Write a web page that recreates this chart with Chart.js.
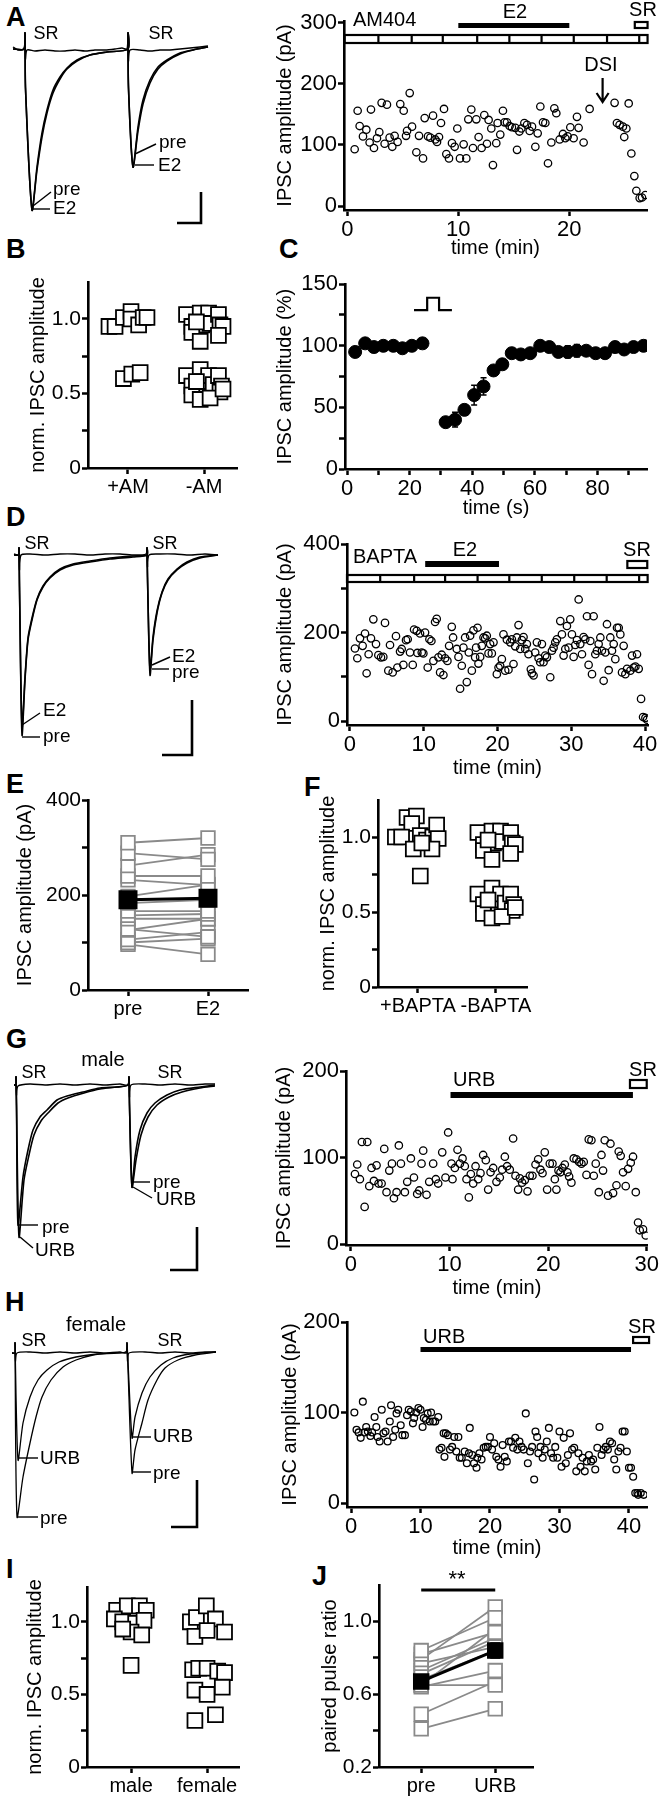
<!DOCTYPE html>
<html>
<head>
<meta charset="utf-8">
<script src="https://cdn.jsdelivr.net/npm/chart.js@4.4.1/dist/chart.umd.min.js"></script>
<style>
  body { margin: 0; background: #fff; width: 660px; height: 1800px; position: relative; overflow: hidden;
         font-family: "Liberation Sans", Arial, Helvetica, sans-serif; }
  canvas { position: absolute; }
  .lt { position: absolute; font-weight: bold; font-size: 27px; line-height: 1; color: #000; }
</style>
</head>
<body>
<div class="lt" style="left:6px;top:4px">A</div>
<div class="lt" style="left:6px;top:236px">B</div>
<div class="lt" style="left:279px;top:236px">C</div>
<div class="lt" style="left:6px;top:504px">D</div>
<div class="lt" style="left:6px;top:771px">E</div>
<div class="lt" style="left:304px;top:774px">F</div>
<div class="lt" style="left:6px;top:1026px">G</div>
<div class="lt" style="left:5px;top:1289px">H</div>
<div class="lt" style="left:6px;top:1556px">I</div>
<div class="lt" style="left:312px;top:1563px">J</div>
<script>
// ---- data ----
// A: IPSC amplitude (pA) vs time (min), AM404 cell
const ptsA = [[0.66,93],[0.93,156],[1.11,131],[1.41,114],[1.71,125],[2.01,104],[2.13,158],[2.40,95],[2.67,111],[2.88,121],
  [3.09,169],[3.36,102],[3.57,166],[3.81,112],[4.05,97],[4.26,115],[4.53,105],[4.77,167],[5.08,156],[5.29,115],
  [5.38,123],[5.62,185],[5.83,130],[6.22,88],[6.46,115],[6.82,78],[6.97,144],[7.27,114],[7.48,112],[7.72,148],
  [7.93,109],[8.08,105],[8.26,113],[8.44,136],[8.71,159],[8.92,85],[9.16,78],[9.43,103],[9.67,97],[9.91,127],
  [10.15,78],[10.48,101],[10.72,78],[10.90,142],[11.17,158],[11.32,95],[11.62,142],[11.83,113],[12.10,95],[12.34,149],
  [12.58,102],[12.73,141],[12.97,127],[13.12,67],[13.42,103],[13.54,136],[13.78,117],[14.02,156],[14.17,137],[14.38,137],
  [14.62,131],[14.83,129],[15.14,128],[15.29,92],[15.50,122],[15.68,127],[15.95,136],[16.19,133],[16.43,123],[16.64,130],
  [16.94,97],[17.15,119],[17.39,163],[17.63,137],[17.84,136],[18.08,70],[18.38,104],[18.65,160],[18.83,152],[19.13,109],
  [19.43,118],[19.64,111],[19.85,114],[20.09,129],[20.39,111],[20.69,146],[20.84,128],[21.29,104],[21.83,159],
  [24.08,169],[24.29,136],[24.53,133],[24.83,130],[24.95,113],[25.14,127],[25.35,168],[25.59,86],[25.86,49],
  [26.04,25],[26.34,13],[26.55,14],[26.85,18]];

// B / F: normalized IPSC amplitude, x = group (1 or 2) plus jitter
const catsB = ['+AM', '-AM'];
const normAM = [[0.75,0.95],[0.83,0.95],[0.94,1.01],[1.04,1.05],[1.04,1.00],[1.14,0.96],[1.20,1.01],[1.25,1.01],
  [0.94,0.60],[1.05,0.63],[1.16,0.64]];
const normCtrl = [[1.77,1.03],[1.84,0.95],[1.95,1.04],[1.97,0.96],[2.06,1.04],[2.08,0.97],[2.19,1.03],[2.21,0.96],
  [2.25,0.95],[1.84,0.91],[1.95,0.85],[2.19,0.89],[1.90,0.98],
  [1.77,0.62],[1.84,0.55],[1.95,0.66],[1.97,0.58],[2.06,0.62],[2.12,0.56],[2.19,0.62],[2.23,0.55],[2.21,0.51],
  [1.84,0.49],[1.95,0.46],[2.08,0.47],[2.25,0.53],[1.90,0.58]];
const catsF = ['+BAPTA', '-BAPTA'];
const normBAPTA = [[0.71,1.00],[0.86,1.13],[0.98,1.14],[0.92,1.09],[0.79,1.00],[1.03,1.01],[1.11,0.98],[1.19,1.00],
  [1.24,1.08],[1.26,0.99],[1.18,0.92],[0.94,0.92],[1.05,0.96],[1.03,0.74]];

// C: DSI time course (%), time (s), SEM
const tC = [2.6,5.8,8.6,11.6,14.8,17.7,20.7,24.1,31.5,34.5,37.5,40.6,43.6,46.8,49.6,52.6,55.5,58.5,61.7,64.6,67.5,70.5,73.4,76.4,79.4,82.4,85.6,88.5,91.5,94.7];
const vC = [95,102,99,100,100,98,100,102,38,40,48,60,67,80,85,94,93,94,100,99,95,95,96,96,94,94,99,97,99,100];
const eC = [2,2,2,2,2,2,2,2,3,6,4,8,7,3,3,4,4,3,3,3,4,5,5,3,4,4,4,3,3,3];

// D: BAPTA cell time course
const ptsD = [[0.68,164],[1.0,142],[1.36,187],[1.72,170],[2.04,198],[2.26,108],[2.53,151],[2.85,187],[3.17,230],[3.53,174],
  [3.85,149],[4.21,144],[4.52,145],[4.75,222],[5.2,114],[5.43,172],[5.79,110],[6.24,192],[6.43,121],[6.79,157],
  [7.01,163],[7.24,127],[7.6,183],[7.83,185],[8.14,155],[8.51,127],[8.69,207],[9.05,204],[9.14,154],[9.5,198],
  [9.73,155],[9.95,153],[10.18,200],[10.54,121],[10.77,185],[11.04,181],[11.31,136],[11.54,224],[11.76,231],[11.99,144],
  [12.22,110],[12.44,150],[12.67,104],[12.9,142],[13.21,136],[13.44,170],[13.8,213],[13.98,189],[14.48,163],[14.71,145],
  [14.93,73],[15.16,125],[15.38,166],[15.61,189],[15.84,88],[16.11,155],[16.29,193],[16.52,114],[16.74,205],[16.97,144],
  [17.1,166],[17.29,211],[17.42,130],[17.65,145],[17.87,170],[18.1,189],[18.33,187],[18.55,193],[18.78,153],[19.0,174],
  [19.23,153],[19.46,178],[19.91,106],[20.14,121],[20.36,125],[20.59,140],[20.81,196],[21.04,114],[21.27,184],[21.49,116],
  [21.72,178],[21.95,185],[22.17,129],[22.4,169],[22.62,189],[22.85,217],[23.08,163],[23.3,183],[23.53,190],[23.76,163],
  [23.98,174],[24.21,151],[24.52,117],[24.66,108],[24.89,103],[25.11,155],[25.34,178],[25.57,142],[25.79,133],[26.02,174],
  [26.24,133],[26.47,148],[26.7,144],[27.15,99],[27.38,159],[27.6,166],[27.83,178],[28.05,185],[28.51,226],[28.73,196],
  [28.96,148],[29.19,163],[29.41,215],[29.64,166],[29.86,230],[30.09,196],[30.32,145],[30.54,172],[30.77,183],[31.0,275],
  [31.22,174],[31.45,151],[31.67,190],[31.9,185],[32.13,237],[32.35,127],[32.58,181],[32.81,106],[33.03,237],[33.26,151],
  [33.48,159],[33.71,174],[33.94,189],[34.16,159],[34.39,91],[34.62,155],[34.84,219],[35.07,115],[35.29,189],[35.52,159],
  [35.75,174],[35.97,140],[36.2,211],[36.43,211],[36.65,196],[36.88,110],[37.1,170],[37.33,106],[37.56,118],[38.01,114],
  [38.24,148],[38.46,121],[38.69,123],[38.91,151],[39.14,118],[39.46,50],[39.73,9],[40.05,7],[40.27,3]];

// E: paired amplitudes pre / E2 (pA)
const catsE = ['pre', 'E2'];
const preE = [310,288,262,240,232,197,183,166,157,150,128,126,106,100,96];
const postE = [320,275,285,240,221,222,190,166,160,150,112,150,122,108,75];
const meanE = [190,193];

// G: male URB cell
const ptsG = [[0.41,81],[0.64,92],[0.91,75],[1.11,118],[1.39,43],[1.66,118],[1.86,67],[2.09,88],[2.33,73],[2.6,91],
  [2.8,70],[3.11,70],[3.38,110],[3.61,60],[3.89,85],[4.16,93],[4.36,53],[4.63,60],[4.86,114],[5.07,93],
  [5.47,60],[5.71,72],[6.08,99],[6.39,77],[6.72,58],[6.93,62],[7.16,93],[7.33,108],[7.67,57],[7.94,72],
  [8.34,93],[8.61,75],[8.85,70],[9.26,106],[9.59,77],[9.86,129],[10.2,93],[10.3,75],[10.54,88],[10.81,109],
  [11.05,93],[11.32,99],[11.55,90],[11.72,75],[11.96,54],[12.16,81],[12.4,70],[12.64,90],[12.91,75],[13.14,82],
  [13.41,103],[13.68,97],[13.92,63],[14.16,83],[14.43,88],[14.76,72],[15.1,77],[15.34,86],[15.61,101],[15.84,90],
  [16.11,86],[16.45,122],[16.69,79],[16.96,63],[17.13,76],[17.36,71],[17.64,74],[17.91,61],[18.14,79],[18.41,79],
  [18.72,92],[18.99,98],[19.22,86],[19.43,82],[19.66,106],[19.9,63],[20.17,93],[20.44,93],[20.68,75],[20.84,63],
  [21.05,85],[21.25,83],[21.45,88],[21.69,92],[21.96,83],[22.13,78],[22.36,71],[22.6,99],[22.87,98],[23.14,95],
  [23.38,93],[23.61,95],[23.89,80],[24.12,121],[24.39,120],[24.63,79],[24.83,93],[25.14,60],[25.41,103],[25.57,85],
  [25.74,120],[26.08,56],[26.32,116],[26.59,59],[26.93,68],[27.16,107],[27.36,102],[27.6,83],[27.87,67],[28.11,87],
  [28.38,94],[28.61,101],[28.89,60],[29.12,25],[29.29,16],[29.63,17],[29.9,10]];

// H: female URB cell
const ptsH = [[0.48,100],[0.79,81],[1.09,78],[1.39,72],[1.7,112],[1.94,78],[2.18,84],[2.42,79],[2.79,74],[3.03,78],
  [3.39,95],[3.64,84],[3.82,73],[4.12,68],[4.42,103],[4.67,77],[4.97,79],[5.27,68],[5.58,90],[5.76,108],
  [6.06,73],[6.36,81],[6.55,99],[6.79,103],[7.15,86],[7.39,75],[7.76,75],[8.06,97],[8.3,103],[8.61,101],
  [8.91,88],[9.09,94],[9.39,100],[9.7,105],[10.0,103],[10.3,84],[10.48,94],[10.79,92],[11.03,99],[11.33,90],
  [11.52,100],[11.82,90],[12.12,90],[12.55,95],[12.73,59],[13.03,61],[13.33,77],[13.45,51],[13.64,77],[13.94,75],
  [14.24,59],[14.55,62],[14.85,73],[15.15,57],[15.45,73],[15.64,50],[15.94,50],[16.36,57],[16.67,44],[16.97,55],
  [17.09,83],[17.45,53],[17.7,44],[18.06,39],[18.18,50],[18.48,55],[18.79,48],[19.09,61],[19.39,62],[19.7,62],
  [20.0,73],[20.3,59],[20.61,66],[20.91,51],[21.21,48],[21.52,40],[21.82,64],[22.12,51],[22.42,46],[22.73,68],
  [23.03,68],[23.33,61],[23.64,72],[23.94,59],[24.24,68],[24.55,62],[24.85,59],[25.15,99],[25.45,44],[25.76,57],
  [26.06,62],[26.36,26],[26.55,79],[26.79,73],[26.97,55],[27.27,62],[27.58,50],[27.88,59],[28.18,68],[28.48,83],
  [28.79,55],[29.09,50],[29.39,62],[29.7,50],[30.0,79],[30.3,40],[30.61,72],[30.91,44],[31.21,53],[31.52,77],
  [31.82,59],[32.12,61],[32.42,35],[32.73,55],[33.03,40],[33.33,50],[33.64,35],[33.94,46],[34.24,53],[34.55,46],
  [34.85,48],[35.15,37],[35.45,61],[35.76,84],[36.06,53],[36.36,59],[36.67,62],[36.97,59],[37.27,68],[37.58,66],
  [37.88,48],[38.18,37],[38.48,57],[38.79,61],[39.09,79],[39.39,79],[39.7,57],[40.0,39],[40.3,39],[40.61,29],
  [40.91,11],[41.21,11],[41.33,9],[41.7,11],[42.12,9]];

// I: normalized amplitude male / female
const catsI = ['male', 'female'];
const normMale = [[0.81,1.08],[0.95,1.11],[1.11,1.11],[1.20,1.08],[0.78,1.02],[0.89,1.00],[1.06,0.99],[1.17,1.01],
  [1.00,0.93],[1.14,0.91],[0.89,0.95],[1.00,0.70]];
const normFemale = [[1.78,1.00],[1.86,1.03],[1.99,1.11],[2.11,1.02],[2.23,0.93],[1.84,0.90],[2.00,0.94],
  [1.81,0.67],[1.89,0.68],[2.00,0.68],[2.14,0.66],[2.23,0.65],[1.84,0.53],[2.00,0.50],[2.20,0.55],[2.11,0.36],[1.84,0.32]];

// J: paired pulse ratio pre / URB
const catsJ = ['pre', 'URB'];
const preJ = [0.84,0.82,0.79,0.77,0.73,0.71,0.68,0.65,0.64,0.65,0.49,0.41];
const postJ = [1.02,0.94,1.08,0.86,0.91,0.89,0.84,0.96,0.73,0.65,0.67,0.52];
const meanJ = [0.67,0.84];
const semJ = [0.035,0.04];

// example traces (x: ms, y: pA relative to baseline)
const trA_sr = [[13,2],[18,-1],[24,0],[25,16],[25.5,-10],[27,-1],[35,-2],[45,-1],[55,-2],[65,-2],[75,-1],[85,-2],[95,-1],[105,-1],[115,0],[122,1],[127,0],[128,16],[128.5,-12],[130,-1],[140,-1],[150,-2],[160,-1],[170,-1],[180,0],[190,1],[200,2],[208,3]];
const trA_pre = [[13,0],[24,0],[25,16],[25.5,-39],[32,-161],[37,-118],[42,-84],[47,-61],[53,-41],[60,-28],[67,-19],[77,-11],[90,-6],[107,-3],[128,0],[128,16],[128.5,-39],[133,-118],[138,-78],[143,-51],[150,-31],[158,-18],[167,-11],[180,-4],[193,-1],[208,2]];
const trA_e2 = [[13,0],[24,0],[25,16],[25.5,-39],[32,-161],[37,-121],[42,-88],[47,-64],[53,-44],[60,-30],[67,-20],[77,-12],[90,-6],[107,-3],[128,0],[128,16],[128.5,-39],[133,-118],[138,-82],[143,-55],[150,-34],[158,-20],[167,-12],[180,-5],[193,-1],[208,2]];
const trD_sr = [[14,1],[18.5,0],[19,7],[19.5,-15],[21,0],[30,1],[45,0],[60,1],[75,1],[90,0],[105,1],[120,1],[135,0],[146,1],[147,7],[147.5,-12],[149,0],[160,1],[175,1],[190,0],[205,1],[218,0]];
const trD_pre = [[14,0],[18.5,0],[19,7],[19.5,-32],[22,-180],[25,-125],[28,-85],[32,-65],[37,-45],[43,-32],[50,-23],[60,-15],[73,-10],[90,-7],[110,-4],[133,-2],[147,0],[147,7],[147.5,-22],[150,-120],[153,-85],[157,-58],[162,-38],[168,-25],[177,-15],[187,-8],[200,-3],[218,0]];
const trD_e2 = [[14,0],[18.5,0],[19,7],[19.5,-32],[22,-173],[25,-122],[28,-83],[32,-63],[37,-44],[43,-31],[50,-22],[60,-14],[73,-9],[90,-6],[110,-3],[133,-1],[147,0],[147,7],[147.5,-22],[150,-115],[153,-82],[157,-56],[162,-37],[168,-24],[177,-14],[187,-7],[200,-2],[218,0]];
const trG_sr = [[14,0],[16,0],[16,8],[16.5,-10],[18,-1],[30,1],[45,0],[60,1],[75,0],[90,1],[105,0],[120,1],[128,0],[129,8],[129.5,-12],[131,0],[145,1],[160,0],[175,1],[190,0],[205,1],[215,1]];
const trG_pre = [[14,0],[16,0],[16,8],[16.5,-20],[18,-140],[23,-92],[28,-65],[33,-45],[40,-32],[47,-25],[57,-15],[67,-11],[83,-7],[100,-3],[117,-2],[128,0],[129,8],[129.5,-20],[132,-102],[135,-72],[140,-45],[147,-28],[155,-18],[167,-10],[180,-5],[200,-2],[215,0]];
const trG_urb = [[14,0],[16,0],[16,8],[16.5,-20],[19,-152],[24,-95],[29,-70],[34,-50],[41,-36],[48,-28],[58,-18],[68,-13],[84,-8],[100,-4],[117,-2],[128,0],[129,8],[129.5,-20],[132,-102],[136,-75],[141,-50],[148,-32],[157,-20],[169,-12],[182,-7],[200,-3],[215,-1]];
const trH_sr = [[12,0],[15,0],[15,10],[15.5,-8],[17,0],[30,1],[45,0],[60,1],[75,0],[90,1],[105,0],[120,1],[126,0],[127,10],[127.5,-8],[129,0],[145,1],[160,0],[175,1],[190,0],[205,1],[216,1]];
const trH_pre = [[12,0],[15,0],[15,10],[17,-164],[23,-124],[30,-90],[36,-64],[42,-44],[51,-27],[63,-14],[76,-7],[93,-2],[110,0],[126,1],[127,10],[132,-120],[135,-97],[142,-70],[148,-47],[157,-27],[165,-15],[178,-7],[195,-2],[216,1]];
const trH_urb = [[12,0],[15,0],[15,10],[18,-107],[23,-70],[30,-44],[38,-27],[47,-17],[59,-9],[76,-4],[97,-1],[126,1],[127,10],[132,-85],[135,-64],[142,-40],[150,-24],[161,-12],[173,-5],[190,-1],[216,1]];

// ---- drawing ----
const FONT = '"Liberation Sans", Arial, Helvetica, sans-serif';
Chart.defaults.font.family = FONT;
Chart.defaults.color = '#000';
Chart.defaults.animation = false;
Chart.defaults.plugins.legend.display = false;
Chart.defaults.plugins.tooltip.enabled = false;

// extra marks: drug bars, text, leaders, error bars
const deco = {
  id: 'deco',
  afterDatasetsDraw(chart, args, o) {
    if (!o || !o.items) return;
    const ctx = chart.ctx, sx = chart.scales.x, sy = chart.scales.y;
    const ox = o.ox, oy = o.oy;
    const px = t => sx.getPixelForValue(t), py = v => sy.getPixelForValue(v);
    ctx.save();
    ctx.fillStyle = '#000'; ctx.strokeStyle = '#000';
    for (const it of o.items) {
      ctx.lineWidth = it.lw || 2.2;
      if (it.k === 'text') {
        ctx.font = (it.bold ? 'bold ' : '') + (it.size || 19) + 'px ' + FONT;
        ctx.textAlign = it.align || 'center';
        ctx.textBaseline = 'middle';
        ctx.fillText(it.s, it.x - ox, it.y - oy);
      } else if (it.k === 'solid') {
        const a = px(it.from), b = px(it.to);
        ctx.fillRect(a, it.y0 - oy, b - a, it.y1 - it.y0);
      } else if (it.k === 'open') {
        const a = px(it.from), b = px(it.to);
        ctx.strokeRect(a, it.y0 - oy, b - a, it.y1 - it.y0);
        (it.div || []).forEach(d => {
          ctx.beginPath(); ctx.moveTo(px(d), it.y0 - oy); ctx.lineTo(px(d), it.y1 - oy); ctx.stroke();
        });
      } else if (it.k === 'arrow') {
        const x = px(it.at);
        ctx.beginPath(); ctx.moveTo(x, it.y0 - oy); ctx.lineTo(x, it.y1 - oy);
        ctx.moveTo(x - 6, it.y1 - oy - 9); ctx.lineTo(x, it.y1 - oy); ctx.lineTo(x + 6, it.y1 - oy - 9);
        ctx.stroke();
      } else if (it.k === 'seg') {
        ctx.beginPath();
        it.p.forEach((q, i) => i ? ctx.lineTo(q[0] - ox, q[1] - oy) : ctx.moveTo(q[0] - ox, q[1] - oy));
        ctx.stroke();
      } else if (it.k === 'dpath') {
        ctx.beginPath();
        it.p.forEach((q, i) => i ? ctx.lineTo(px(q[0]), py(q[1])) : ctx.moveTo(px(q[0]), py(q[1])));
        ctx.stroke();
      } else if (it.k === 'hline') {
        ctx.beginPath(); ctx.moveTo(px(it.from), it.y - oy); ctx.lineTo(px(it.to), it.y - oy); ctx.stroke();
      } else if (it.k === 'err') {
        it.p.forEach(q => {
          const x = px(q[0]), a = py(q[1] - q[2]), b = py(q[1] + q[2]), c = it.cap || 4;
          ctx.beginPath();
          ctx.moveTo(x, a); ctx.lineTo(x, b);
          ctx.moveTo(x - c, a); ctx.lineTo(x + c, a);
          ctx.moveTo(x - c, b); ctx.lineTo(x + c, b);
          ctx.stroke();
        });
      }
    }
    ctx.restore();
  }
};
Chart.register(deco);

function addCanvas(x, y, w, h) {
  const c = document.createElement('canvas');
  c.width = w; c.height = h;
  c.style.left = x + 'px'; c.style.top = y + 'px';
  c.style.width = w + 'px'; c.style.height = h + 'px';
  document.body.appendChild(c);
  return c;
}

function axis(pos, min, max, ticks, size, fmt, title, fs) {
  return {
    type: 'linear', position: pos, min: min, max: max,
    afterBuildTicks: s => { s.ticks = ticks.map(v => ({ value: v })); },
    afterFit: s => { if (pos === 'left') s.width = size; else s.height = size; },
    grid: { drawOnChartArea: false, drawTicks: true, tickLength: 6, tickWidth: 2.5, tickColor: '#000' },
    border: { color: '#000', width: 2.6 },
    ticks: { padding: 1, color: '#000', font: { size: fs || 22 }, maxRotation: 0, autoSkip: false, callback: fmt },
    title: { display: !!title, text: title || '', color: '#000', font: { size: 20 }, padding: 0 }
  };
}
const only = list => v => list.includes(v) ? (Number.isInteger(v) && v !== 1 ? String(v) : (v === 0 ? '0' : v.toFixed(1))) : '';
const xy = arr => arr.map(p => ({ x: p[0], y: p[1] }));

// plot helper: box = canvas rect on page, pad = chart padding (top/right)
function plot(box, pad, scales, datasets, items) {
  const c = addCanvas(box.x, box.y, box.w, box.h);
  return new Chart(c, {
    type: 'scatter',
    data: { datasets: datasets },
    options: {
      responsive: false, events: [],
      layout: { padding: { left: 0, top: pad.t, right: pad.r, bottom: 0 } },
      scales: scales,
      plugins: { deco: { items: items || [], ox: box.x, oy: box.y } }
    }
  });
}

function tracePlot(box, base, traces, items) {
  const c = addCanvas(box.x, box.y, box.w, box.h);
  return new Chart(c, {
    type: 'scatter',
    data: { datasets: traces.map(t => ({ data: xy(t.d), showLine: true, pointRadius: 0, borderColor: '#000',
      borderWidth: t.w || 1.6, tension: t.t === undefined ? 0.25 : t.t })) },
    options: {
      responsive: false, events: [],
      layout: { padding: 0 },
      scales: { x: { display: false, min: 0, max: box.w }, y: { display: false, min: base - (box.y + box.h), max: base - box.y } },
      plugins: { deco: { items: items || [], ox: box.x, oy: box.y } }
    }
  });
}

const circles = (arr) => ({ data: xy(arr), pointStyle: 'circle', pointRadius: 3.7, pointBorderWidth: 1.3,
  pointBorderColor: '#000', pointBackgroundColor: 'rgba(0,0,0,0)' });
const squares = (arr) => ({ data: xy(arr), pointStyle: 'rect', pointRadius: 10.5, pointBorderWidth: 1.8,
  pointBorderColor: '#000', pointBackgroundColor: '#fff' });
const pairs = (pre, post) => pre.map((v, i) => ({ data: [{ x: 1, y: v }, { x: 2, y: post[i] }], showLine: true,
  borderColor: '#8a8a8a', borderWidth: 1.8, pointStyle: 'rect', pointRadius: 9.6, pointBorderWidth: 1.8,
  pointBorderColor: '#8a8a8a', pointBackgroundColor: '#fff', order: 2 }));
const meanSet = (m, r) => ({ data: [{ x: 1, y: m[0] }, { x: 2, y: m[1] }], showLine: true, borderColor: '#000',
  borderWidth: 3, pointStyle: 'rect', pointRadius: r, pointBackgroundColor: '#000', pointBorderColor: '#000', order: 0 });

// ---- A ----
tracePlot({ x: 0, y: 25, w: 225, h: 210 }, 49, [{ d: trA_sr, w: 1.4 }, { d: trA_pre }, { d: trA_e2 },
  { d: [[177,-174],[201,-174],[201,-143]], w: 2.6, t: 0 }], [
  { k: 'text', s: 'SR', x: 46, y: 34, size: 18 }, { k: 'text', s: 'SR', x: 161, y: 34, size: 18 },
  { k: 'seg', p: [[33,206],[51,192]], lw: 1.4 }, { k: 'seg', p: [[33,209],[50,209]], lw: 1.4 },
  { k: 'text', s: 'pre', x: 53, y: 190, align: 'left' }, { k: 'text', s: 'E2', x: 53, y: 209, align: 'left' },
  { k: 'seg', p: [[135,154],[156,144]], lw: 1.4 }, { k: 'seg', p: [[135,165],[154,165]], lw: 1.4 },
  { k: 'text', s: 'pre', x: 159, y: 143, align: 'left' }, { k: 'text', s: 'E2', x: 158, y: 166, align: 'left' }
]);
plot({ x: 273, y: 0, w: 387, h: 260 }, { t: 21, r: 13 }, {
  x: axis('bottom', -0.3, 27, [0, 10, 20], 50, v => String(v), 'time (min)'),
  y: axis('left', -6.5, 303, [0, 100, 200, 300], 71, v => String(v), 'IPSC amplitude (pA)')
}, [circles(ptsA)], [
  { k: 'open', from: -0.25, to: 27.05, y0: 35, y1: 43, div: [2.8, 5.8, 8.6, 11.7, 14.6, 17.5, 20.4, 23.4, 26.3] },
  { k: 'solid', from: 10, to: 20, y0: 23, y1: 28 },
  { k: 'open', from: 25.9, to: 27.05, y0: 22, y1: 28 },
  { k: 'text', s: 'AM404', x: 353, y: 20, align: 'left', size: 20 },
  { k: 'text', s: 'E2', x: 515, y: 12, size: 20 },
  { k: 'text', s: 'SR', x: 643, y: 10, size: 20 },
  { k: 'text', s: 'DSI', x: 601, y: 65, size: 20 },
  { k: 'arrow', at: 23, y0: 78, y1: 102 }
]);

// ---- B ----
plot({ x: 26, y: 262, w: 250, h: 243 }, { t: 20, r: 39 }, {
  x: axis('bottom', 0.474, 2.434, [1, 2], 37, v => catsB[v - 1], '', 20),
  y: axis('left', 0, 1.248, [0, 0.25, 0.5, 0.75, 1], 62, only([0, 0.5, 1]), 'norm. IPSC amplitude', 21)
}, [squares(normAM), squares(normCtrl)]);

// ---- C ----
plot({ x: 273, y: 270, w: 387, h: 250 }, { t: 13, r: 13 }, {
  x: axis('bottom', -0.64, 95.8, [0, 10, 20, 30, 40, 50, 60, 70, 80, 90], 51, only([0, 20, 40, 60, 80]), 'time (s)'),
  y: axis('left', 0, 150, [0, 25, 50, 75, 100, 125, 150], 72, only([0, 50, 100, 150]), 'IPSC amplitude (%)')
}, [{ data: tC.map((t, i) => ({ x: t, y: vC[i] })), pointStyle: 'circle', pointRadius: 6.5, pointBackgroundColor: '#000', pointBorderColor: '#000' }], [
  { k: 'err', p: tC.map((t, i) => [t, vC[i], eC[i]]), lw: 1.5, cap: 3 },
  { k: 'dpath', p: [[21.4,129],[25.6,129],[25.6,139],[29.4,139],[29.4,129],[33.5,129]], lw: 2.2 }
]);

// ---- D ----
tracePlot({ x: 0, y: 530, w: 225, h: 235 }, 555, [{ d: trD_sr, w: 1.4 }, { d: trD_pre }, { d: trD_e2 },
  { d: [[162,-200],[192,-200],[192,-145]], w: 2.6, t: 0 }], [
  { k: 'text', s: 'SR', x: 37, y: 544, size: 18 }, { k: 'text', s: 'SR', x: 165, y: 544, size: 18 },
  { k: 'seg', p: [[22,725],[40,713]], lw: 1.4 }, { k: 'seg', p: [[22,737],[40,737]], lw: 1.4 },
  { k: 'text', s: 'E2', x: 43, y: 711, align: 'left' }, { k: 'text', s: 'pre', x: 43, y: 737, align: 'left' },
  { k: 'seg', p: [[152,665],[170,657]], lw: 1.4 }, { k: 'seg', p: [[152,669],[169,669]], lw: 1.4 },
  { k: 'text', s: 'E2', x: 172, y: 657, align: 'left' }, { k: 'text', s: 'pre', x: 172, y: 673, align: 'left' }
]);
plot({ x: 273, y: 530, w: 387, h: 250 }, { t: 13, r: 12 }, {
  x: axis('bottom', -0.4, 40.4, [0, 10, 20, 30, 40], 55, v => String(v), 'time (min)'),
  y: axis('left', -9, 400, [0, 100, 200, 300, 400], 74, only([0, 200, 400]), 'IPSC amplitude (pA)')
}, [circles(ptsD)], [
  { k: 'open', from: -0.4, to: 40.35, y0: 575, y1: 582, div: [4.1, 8.7, 12.9, 17.3, 21.6, 26.0, 30.4, 34.8, 39.2] },
  { k: 'solid', from: 10.2, to: 20.2, y0: 561, y1: 567 },
  { k: 'open', from: 37.6, to: 40.3, y0: 561, y1: 568 },
  { k: 'text', s: 'BAPTA', x: 353, y: 557, align: 'left', size: 20 },
  { k: 'text', s: 'E2', x: 465, y: 550, size: 20 },
  { k: 'text', s: 'SR', x: 637, y: 550, size: 20 }
]);

// ---- E ----
plot({ x: 13, y: 780, w: 255, h: 245 }, { t: 20, r: 20 }, {
  x: axis('bottom', 0.5, 2.5, [1, 2], 35, v => catsE[v - 1], '', 20),
  y: axis('left', 0, 400, [0, 100, 200, 300, 400], 75, only([0, 200, 400]), 'IPSC amplitude (pA)', 21)
}, [meanSet(meanE, 11.3)].concat(pairs(preE, postE)));

// ---- F ----
plot({ x: 316, y: 780, w: 240, h: 245 }, { t: 20, r: 29 }, {
  x: axis('bottom', 0.487, 2.4, [1, 2], 38, v => catsF[v - 1], '', 20),
  y: axis('left', 0, 1.247, [0, 0.25, 0.5, 0.75, 1], 62, only([0, 0.5, 1]), 'norm. IPSC amplitude', 21)
}, [squares(normBAPTA), squares(normCtrl)]);

// ---- G ----
tracePlot({ x: 0, y: 1050, w: 225, h: 230 }, 1085, [{ d: trG_sr, w: 1.4 }, { d: trG_pre }, { d: trG_urb },
  { d: [[170,-185],[197,-185],[197,-142]], w: 2.6, t: 0 }], [
  { k: 'text', s: 'male', x: 103, y: 1060, size: 20 },
  { k: 'text', s: 'SR', x: 34, y: 1073, size: 18 }, { k: 'text', s: 'SR', x: 170, y: 1073, size: 18 },
  { k: 'seg', p: [[18,1225],[38,1225]], lw: 1.4 }, { k: 'seg', p: [[20,1237],[33,1248]], lw: 1.4 },
  { k: 'text', s: 'pre', x: 42, y: 1228, align: 'left' }, { k: 'text', s: 'URB', x: 35, y: 1251, align: 'left' },
  { k: 'seg', p: [[132,1182],[150,1182]], lw: 1.4 }, { k: 'seg', p: [[133,1187],[152,1198]], lw: 1.4 },
  { k: 'text', s: 'pre', x: 153, y: 1183, align: 'left' }, { k: 'text', s: 'URB', x: 156, y: 1200, align: 'left' }
]);
plot({ x: 272, y: 1050, w: 388, h: 250 }, { t: 21, r: 12 }, {
  x: axis('bottom', -0.5, 30.1, [0, 10, 20, 30], 55, v => String(v), 'time (min)'),
  y: axis('left', -1, 200, [0, 100, 200], 74, v => String(v), 'IPSC amplitude (pA)')
}, [circles(ptsG)], [
  { k: 'solid', from: 10.1, to: 28.6, y0: 1092, y1: 1098 },
  { k: 'open', from: 28.3, to: 30, y0: 1080, y1: 1088 },
  { k: 'text', s: 'URB', x: 453, y: 1080, align: 'left', size: 20 },
  { k: 'text', s: 'SR', x: 643, y: 1070, size: 20 }
]);

// ---- H ----
tracePlot({ x: 0, y: 1305, w: 225, h: 230 }, 1353, [{ d: trH_sr, w: 1.3 }, { d: trH_pre, w: 1.3 }, { d: trH_urb, w: 1.3 },
  { d: [[171,-174],[197,-174],[197,-127]], w: 2.6, t: 0 }], [
  { k: 'text', s: 'female', x: 96, y: 1325, size: 20 },
  { k: 'text', s: 'SR', x: 34, y: 1341, size: 18 }, { k: 'text', s: 'SR', x: 170, y: 1341, size: 18 },
  { k: 'seg', p: [[18,1458],[38,1458]], lw: 1.4 }, { k: 'seg', p: [[17,1517],[38,1517]], lw: 1.4 },
  { k: 'text', s: 'URB', x: 40, y: 1459, align: 'left' }, { k: 'text', s: 'pre', x: 40, y: 1519, align: 'left' },
  { k: 'seg', p: [[132,1437],[151,1437]], lw: 1.4 }, { k: 'seg', p: [[132,1472],[151,1472]], lw: 1.4 },
  { k: 'text', s: 'URB', x: 153, y: 1437, align: 'left' }, { k: 'text', s: 'pre', x: 153, y: 1474, align: 'left' }
]);
plot({ x: 278, y: 1305, w: 382, h: 255 }, { t: 17, r: 13 }, {
  x: axis('bottom', -0.58, 42.6, [0, 10, 20, 30, 40], 53, v => String(v), 'time (min)'),
  y: axis('left', -4.4, 200, [0, 100, 200], 69, v => String(v), 'IPSC amplitude (pA)')
}, [Object.assign(circles(ptsH), { pointRadius: 3.4 })], [
  { k: 'solid', from: 10, to: 40.3, y0: 1347, y1: 1352 },
  { k: 'open', from: 40.6, to: 42.9, y0: 1337, y1: 1343 },
  { k: 'text', s: 'URB', x: 423, y: 1337, align: 'left', size: 20 },
  { k: 'text', s: 'SR', x: 642, y: 1327, size: 20 }
]);

// ---- I ----
plot({ x: 23, y: 1567, w: 240, h: 233 }, { t: 20, r: 24 }, {
  x: axis('bottom', 0.42, 2.42, [1, 2], 33, v => catsI[v - 1], '', 20),
  y: axis('left', 0, 1.24, [0, 0.25, 0.5, 0.75, 1], 64, only([0, 0.5, 1]), 'norm. IPSC amplitude', 21)
}, [squares(normMale), squares(normFemale)]);

// ---- J ----
plot({ x: 318, y: 1567, w: 260, h: 233 }, { t: 18, r: 45 }, {
  x: axis('bottom', 0.43, 2.51, [1, 2], 33, v => catsJ[v - 1], '', 20),
  y: axis('left', 0.2, 1.2, [0.2, 0.4, 0.6, 0.8, 1.0], 61, only([0.2, 0.6, 1.0]), 'paired pulse ratio', 21)
}, [meanSet(meanJ, 9.5)].concat(pairs(preJ, postJ)), [
  { k: 'err', p: [[1, meanJ[0], semJ[0]], [2, meanJ[1], semJ[1]]], lw: 2, cap: 5 },
  { k: 'hline', from: 1, to: 2, y: 1590, lw: 3 },
  { k: 'text', s: '**', x: 457, y: 1580, size: 22 }
]);
</script>
</body>
</html>
